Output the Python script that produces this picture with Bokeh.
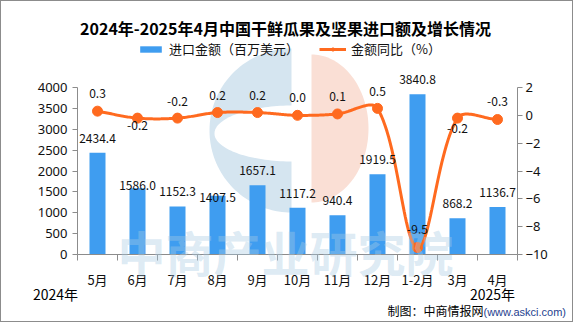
import numpy as np
from bokeh.plotting import figure
from bokeh.models import (ColumnDataSource, Range1d, LinearAxis, FixedTicker, Label,
                          LabelSet, Legend, LegendItem)
from bokeh.core.properties import value
from bokeh.embed import file_html
from bokeh.resources import INLINE

# ---------------- data ----------------
months = ["5月", "6月", "7月", "8月", "9月", "10月", "11月", "12月", "1-2月", "3月", "4月"]
import_value = [2434.4, 1586.0, 1152.3, 1407.5, 1657.1, 1117.2, 940.4, 1919.5, 3840.8, 868.2, 1136.7]
yoy = [0.3, -0.2, -0.2, 0.2, 0.2, 0.0, 0.1, 0.5, -9.5, -0.2, -0.3]
left_ticks = [0, 500, 1000, 1500, 2000, 2500, 3000, 3500, 4000]
right_ticks = [-10, -8, -6, -4, -2, 0, 2]
left_lim = (0, 4000)
right_lim = (-10, 2)
title_text = "2024年-2025年4月中国干鲜瓜果及坚果进口额及增长情况"
legend_bar = "进口金额（百万美元）"
legend_line = "金额同比（%）"
year_left = "2024年"
year_right = "2025年"
credit_cn = "制图：中商情报网"
credit_url = "(www.askci.com)"
watermark = "中商产业研究院"

bar_text = [f"{v:.1f}" for v in import_value]
yoy_text = [f"{v:.1f}" for v in yoy]

# ---------------- style / geometry ----------------
BLUE = "#3F9DF0"
ORANGE = "#FF6A1F"
AXIS = "#8C8C8C"
TXT = "#111111"
CJK = "Noto Sans CJK SC"
bar_label_dy = [14.5, 2.5, 14.5, -1.5, 14.5, 14.5, 14.5, 14.5, 14.5, 14.5, 14.5]
yoy_label_dy = [18, -7, 17, 17, 17, 18, 17, 17, 18, -10, 18]

PAGE_W, PAGE_H, BORDER = 575, 324, 1
W, H = PAGE_W - 2 * BORDER, PAGE_H - 2 * BORDER
AX_L, AX_R, AX_T, AX_B = 77, 517, 87, 254      # axis box in page pixels
n = len(months)
idx = list(range(n))
cat_px = (AX_R - AX_L) / n
ppu_left = (AX_B - AX_T) / (left_lim[1] - left_lim[0])
ppu_right = (AX_B - AX_T) / (right_lim[1] - right_lim[0])


def xdata(px):
    return -0.5 + (px - AX_L) / cat_px


def ydata(py):
    return left_lim[0] + (AX_B - py) / ppu_left


def sx(px):            # page px -> frame screen x (frame covers canvas)
    return px - BORDER


def sy(py):            # page px -> frame screen y (from bottom)
    return (PAGE_H - BORDER) - py


x_range = Range1d(xdata(BORDER), xdata(PAGE_W - BORDER))
y_range = Range1d(ydata(PAGE_H - BORDER), ydata(BORDER))
yoy_range = Range1d(right_lim[0] - (PAGE_H - BORDER - AX_B) / ppu_right,
                    right_lim[0] + (AX_B - BORDER) / ppu_right)

p = figure(width=W, height=H, output_backend="svg", toolbar_location=None,
           x_range=x_range, y_range=y_range, min_border=0)
p.styles = {"border": "1px solid #8c8c8c"}
p.outline_line_color = None
p.grid.visible = False
p.background_fill_color = "white"
p.border_fill_color = "white"
p.extra_y_ranges = {"yoy": yoy_range}

# ---------------- faint logo watermark (decoration, behind the data) ----------------
LOGO_BLUE = "#D5E5F0"
LOGO_ORANGE = "#FADFD5"
th = np.linspace(np.pi / 2, 3 * np.pi / 2, 80)
lc, lr = (291, 130), 82
p.patch([xdata(lc[0] + lr * np.cos(a)) for a in th], [ydata(lc[1] - lr * np.sin(a)) for a in th],
        color=LOGO_BLUE, line_color=None)
hc, ha, hb = (292, 133), 78, 28
p.patch([xdata(hc[0] + ha * np.cos(a)) for a in th], [ydata(hc[1] - hb * np.sin(a)) for a in th],
        color="white", line_color=None)
th2 = np.linspace(-np.pi / 2, np.pi / 2, 80)
oc, oa, ob = (311, 128), 57, 74
p.patch([xdata(oc[0] + oa * np.cos(a)) for a in th2], [ydata(oc[1] - ob * np.sin(a)) for a in th2],
        color=LOGO_ORANGE, line_color=None)

# left axis
la = p.yaxis[0]
la.fixed_location = -0.5
la.bounds = left_lim
la.ticker = FixedTicker(ticks=left_ticks)
# right axis
ra = LinearAxis(y_range_name="yoy", fixed_location=n - 0.5, bounds=right_lim,
                ticker=FixedTicker(ticks=right_ticks))
p.add_layout(ra, "right")
for ax in (la, ra):
    ax.axis_line_color = AXIS
    ax.major_tick_line_color = AXIS
    ax.minor_tick_line_color = None
    ax.major_tick_out = 5
    ax.major_tick_in = 0
    ax.major_label_text_font = "Noto Sans"
    ax.major_label_text_font_size = "13px"
    ax.major_label_text_color = TXT
la.major_label_standoff = 5
ra.major_label_standoff = 3

# bottom axis: ticks at category boundaries
bounds_ticks = [i - 0.5 for i in range(n + 1)]
xa = p.xaxis[0]
xa.fixed_location = 0
xa.bounds = (-0.5, n - 0.5)
xa.ticker = FixedTicker(ticks=bounds_ticks)
xa.major_label_overrides = {t: "" for t in bounds_ticks}
xa.major_tick_out = 6
xa.major_tick_in = 0
xa.minor_tick_line_color = None
xa.axis_line_color = AXIS
xa.major_tick_line_color = AXIS

# bottom axis: month labels at category centres
ma = LinearAxis(fixed_location=0, ticker=FixedTicker(ticks=idx),
                major_label_overrides={i: m for i, m in zip(idx, months)})
p.add_layout(ma, "below")
ma.axis_line_color = None
ma.major_tick_line_color = None
ma.minor_tick_line_color = None
ma.major_label_standoff = 9
ma.major_label_text_font = CJK
ma.major_label_text_font_size = "13px"
ma.major_label_text_color = TXT

# bars
bars = p.vbar(x=idx, top=import_value, width=0.4, color=BLUE, line_color=None)

# smoothed line through the data points (chord-weighted Catmull-Rom in pixel space)
P = np.column_stack([np.array(idx, float) * cat_px, np.array(yoy, float) * ppu_right])
cin, cout = [], []
for i in range(n):
    a = P[max(i - 1, 0)]
    b = P[min(i + 1, n - 1)]
    T = b - a
    d0 = np.linalg.norm(P[i] - a)
    d1 = np.linalg.norm(b - P[i])
    tot = d0 + d1 if d0 + d1 > 0 else 1.0
    cin.append(P[i] - T * d0 / tot / 3.0)
    cout.append(P[i] + T * d1 / tot / 3.0)
curve = []
t = np.linspace(0, 1, 30)[:, None]
for i in range(n - 1):
    seg = ((1 - t) ** 3) * P[i] + 3 * ((1 - t) ** 2) * t * cout[i] + 3 * (1 - t) * t ** 2 * cin[i + 1] + t ** 3 * P[i + 1]
    curve.append(seg)
curve = np.vstack(curve)
line = p.line(curve[:, 0] / cat_px, curve[:, 1] / ppu_right, y_range_name="yoy",
              color=ORANGE, line_width=3)
dots = p.scatter(idx, yoy, y_range_name="yoy", size=10, color=ORANGE)

# data labels
bsrc = ColumnDataSource(dict(x=idx, y=import_value, text=bar_text, dy=bar_label_dy))
p.add_layout(LabelSet(x="x", y="y", text="text", y_offset="dy", source=bsrc,
                      text_align="center", text_baseline="middle",
                      text_font=value(CJK), text_font_size=value("12px"), text_color=TXT))
lsrc = ColumnDataSource(dict(x=idx, y=yoy, text=yoy_text, dy=yoy_label_dy))
p.add_layout(LabelSet(x="x", y="y", text="text", y_offset="dy", source=lsrc,
                      y_range_name="yoy", text_align="center", text_baseline="middle",
                      text_font=value(CJK), text_font_size=value("12px"), text_color=TXT))

# legend
legend = Legend(items=[LegendItem(label=legend_bar, renderers=[bars]),
                       LegendItem(label=legend_line, renderers=[line, dots])],
                location=(sx(137), sy(58)), orientation="horizontal",
                glyph_width=27, glyph_height=8, label_standoff=5, spacing=20,
                padding=0, margin=0, border_line_color=None, background_fill_alpha=0,
                label_text_font=CJK, label_text_font_size="13px", label_text_color=TXT)
p.add_layout(legend)


def note(text, px, py, size, align="center", font=CJK, color="#000000", bold=False, alpha=1.0):
    p.add_layout(Label(x=sx(px), y=sy(py), x_units="screen", y_units="screen", text=text,
                       text_align=align, text_baseline="middle", text_font=font,
                       text_font_size=size, text_color=color, text_alpha=alpha,
                       text_font_style="bold" if bold else "normal"))


note(watermark, 285, 250, "48px", color="#A9CBE3", bold=True, alpha=0.4)
note(title_text, 285, 27, "16px", bold=True)
note(year_left, 55, 293, "14px")
note(year_right, 492, 293, "14px")
note(credit_cn, 483, 310, "12px", align="right")
note(credit_url, 483, 311, "11px", align="left", font="Liberation Sans", color="#1F3F8F")

open("out.html", "w").write(file_html(p, INLINE))
